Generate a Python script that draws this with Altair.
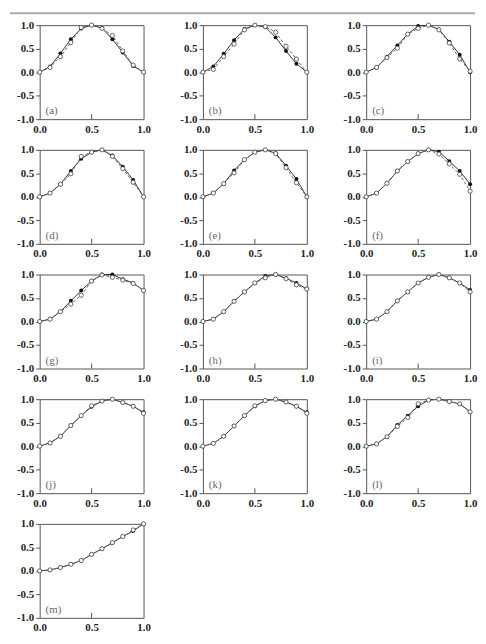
import altair as alt
import pandas as pd

x_vals = [0.0, 0.1, 0.2, 0.3, 0.4, 0.5, 0.6, 0.7, 0.8, 0.9, 1.0]
x_ticks = [0.0, 0.5, 1.0]
y_ticks = [-1.0, -0.5, 0.0, 0.5, 1.0]
panel_labels = ["(a)", "(b)", "(c)", "(d)", "(e)", "(f)", "(g)",
                "(h)", "(i)", "(j)", "(k)", "(l)", "(m)"]

a_filled = [0.0, 0.12, 0.40, 0.70, 0.93, 1.00, 0.94, 0.70, 0.42, 0.13, 0.0]
a_open   = [0.0, 0.10, 0.33, 0.63, 0.95, 1.00, 0.93, 0.78, 0.45, 0.15, 0.0]
b_filled = [0.0, 0.12, 0.39, 0.68, 0.92, 1.00, 0.96, 0.74, 0.45, 0.18, 0.0]
b_open   = [0.0, 0.06, 0.33, 0.60, 0.90, 1.00, 0.97, 0.85, 0.55, 0.28, 0.0]
c_filled = [0.0, 0.10, 0.33, 0.57, 0.81, 0.98, 1.00, 0.91, 0.65, 0.37, 0.0]
c_open   = [0.0, 0.10, 0.31, 0.51, 0.81, 0.93, 1.00, 0.90, 0.62, 0.28, 0.02]
d_filled = [0.0, 0.08, 0.27, 0.55, 0.81, 0.95, 1.00, 0.88, 0.64, 0.36, 0.0]
d_open   = [0.0, 0.08, 0.27, 0.49, 0.86, 0.95, 1.00, 0.86, 0.60, 0.31, 0.0]
e_filled = [0.0, 0.08, 0.28, 0.56, 0.79, 0.95, 1.00, 0.93, 0.66, 0.38, 0.0]
e_open   = [0.0, 0.08, 0.28, 0.51, 0.79, 0.95, 1.00, 0.92, 0.62, 0.30, 0.0]
f_filled = [0.0, 0.08, 0.29, 0.55, 0.75, 0.92, 1.00, 0.96, 0.76, 0.55, 0.27]
f_open   = [0.0, 0.08, 0.29, 0.55, 0.75, 0.92, 1.00, 0.91, 0.70, 0.48, 0.12]
g_filled = [0.0, 0.05, 0.21, 0.44, 0.66, 0.86, 1.00, 1.00, 0.90, 0.82, 0.66]
g_open   = [0.0, 0.05, 0.21, 0.37, 0.56, 0.86, 0.99, 0.94, 0.88, 0.81, 0.66]
h_filled = [0.0, 0.05, 0.21, 0.43, 0.63, 0.82, 0.97, 1.00, 0.92, 0.82, 0.69]
h_open   = [0.0, 0.05, 0.21, 0.43, 0.63, 0.82, 0.93, 1.00, 0.91, 0.78, 0.69]
i_filled = [0.0, 0.05, 0.21, 0.44, 0.63, 0.82, 0.94, 1.00, 0.93, 0.82, 0.67]
i_open   = [0.0, 0.05, 0.21, 0.44, 0.63, 0.82, 0.94, 1.00, 0.93, 0.82, 0.63]
j_filled = [0.0, 0.07, 0.21, 0.44, 0.65, 0.84, 0.96, 1.00, 0.93, 0.85, 0.72]
j_open   = [0.0, 0.07, 0.21, 0.44, 0.65, 0.86, 0.96, 1.00, 0.93, 0.85, 0.70]
k_filled = [0.0, 0.06, 0.21, 0.43, 0.65, 0.85, 0.97, 1.00, 0.94, 0.85, 0.72]
k_open   = [0.0, 0.06, 0.21, 0.43, 0.65, 0.86, 0.97, 1.00, 0.94, 0.85, 0.70]
l_filled = [0.0, 0.05, 0.20, 0.45, 0.65, 0.85, 0.98, 1.00, 0.95, 0.90, 0.73]
l_open   = [0.0, 0.05, 0.20, 0.42, 0.61, 0.90, 0.98, 1.00, 0.95, 0.90, 0.73]
m_filled = [0.0, 0.02, 0.07, 0.14, 0.22, 0.35, 0.47, 0.60, 0.73, 0.85, 1.00]
m_open   = [0.0, 0.02, 0.07, 0.14, 0.22, 0.35, 0.47, 0.60, 0.73, 0.87, 1.00]

series = [
    (a_filled, a_open), (b_filled, b_open), (c_filled, c_open),
    (d_filled, d_open), (e_filled, e_open), (f_filled, f_open),
    (g_filled, g_open), (h_filled, h_open), (i_filled, i_open),
    (j_filled, j_open), (k_filled, k_open), (l_filled, l_open),
    (m_filled, m_open),
]

W, H = 105, 95
FONT = "Liberation Serif"
LABEL_EXPR = "replace(format(datum.value, '.1f'), '\u2212', '-')"


def panel(label, filled, opn, first=False):
    df = pd.DataFrame({
        "x": x_vals + x_vals,
        "y": filled + opn,
        "s": ["filled"] * len(x_vals) + ["open"] * len(x_vals),
    })
    xenc = alt.X("x:Q", scale=alt.Scale(domain=[0, 1], nice=False),
                 axis=alt.Axis(values=x_ticks, labelExpr=LABEL_EXPR, title=None, tickSize=0,
                               labelPadding=4, domain=False, grid=False, labelFlush=False))
    yenc = alt.Y("y:Q", scale=alt.Scale(domain=[-1, 1], nice=False),
                 axis=alt.Axis(values=y_ticks, labelExpr=LABEL_EXPR, title=None, tickSize=4,
                               labelPadding=2, domain=False, grid=False, labelFlush=False))
    base = alt.Chart(df).encode(x=xenc, y=yenc)
    solid = base.transform_filter(alt.datum.s == "filled").mark_line(
        color="#333", strokeWidth=1)
    dashed = base.transform_filter(alt.datum.s == "open").mark_line(
        color="#666", strokeWidth=1, strokeDash=[3, 2])
    fpts = base.transform_filter(alt.datum.s == "filled").mark_point(
        shape="circle", filled=True, color="#111", size=16, opacity=1)
    opts = base.transform_filter(alt.datum.s == "open").mark_point(
        shape="circle", filled=True, fill="white", stroke="#444", strokeWidth=0.8,
        size=18, opacity=1)
    tick = alt.Chart(pd.DataFrame({"x": [x_ticks[1]]})).mark_rule(
        color="#555", strokeWidth=1).encode(x="x:Q", y=alt.value(H), y2=alt.value(H - 5))
    lab = alt.Chart(pd.DataFrame({"t": [label]})).mark_text(
        align="left", baseline="alphabetic", font=FONT, fontSize=11, color="#666"
    ).encode(x=alt.value(6), y=alt.value(H - 5), text="t:N")
    layers = [solid, dashed, fpts, opts, tick, lab]
    if first:
        rule = alt.Chart(pd.DataFrame({"r": [0]})).mark_rule(
            color="#aaa", strokeWidth=2).encode(
            x=alt.value(-30), x2=alt.value(440), y=alt.value(-12))
        layers.append(rule)
    return alt.layer(*layers).properties(width=W, height=H)


panels = [panel(lbl, f, o, first=(i == 0))
          for i, (lbl, (f, o)) in enumerate(zip(panel_labels, series))]

chart = alt.concat(*panels, columns=3, spacing={"row": 31, "column": 60},
                   bounds="flush").properties(
    padding={"left": 0, "top": 0, "right": 0, "bottom": 0}
).configure_view(stroke="#555", strokeWidth=1).configure_axis(
    labelFont=FONT, labelFontWeight="bold", labelFontSize=11, labelColor="#222",
    tickColor="#555"
)

chart.save("out.html", embed_options={"renderer": "svg", "actions": False})
